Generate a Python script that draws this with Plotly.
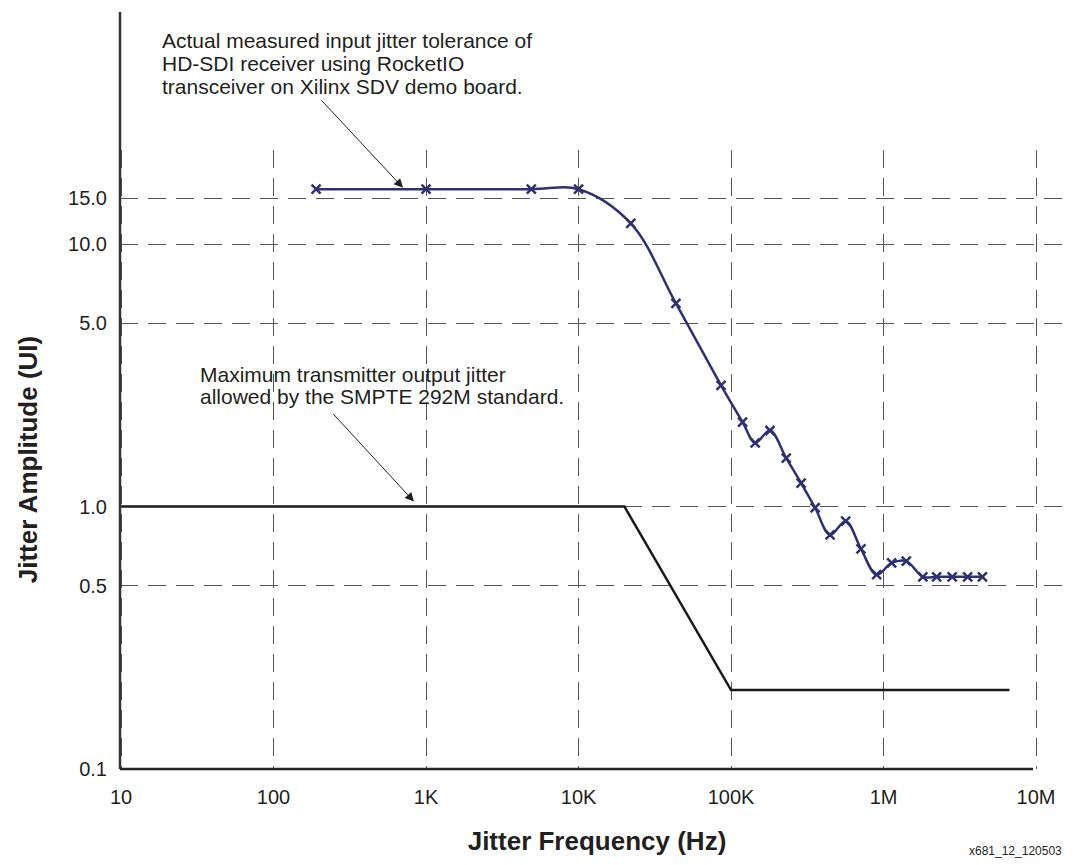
import plotly.graph_objects as go

# ---- data ----
meas_freq = [190, 1000, 4900, 10000, 22000, 43500, 86000, 119000, 144000, 180000,
             230000, 288000, 356000, 446000, 565000, 711000, 901000, 1130000,
             1410000, 1810000, 2230000, 2820000, 3560000, 4450000]
meas_amp = [16.2, 16.2, 16.2, 16.2, 12.0, 5.95, 2.90, 2.10, 1.75, 1.95,
            1.53, 1.23, 0.99, 0.78, 0.88, 0.69, 0.55, 0.61,
            0.62, 0.54, 0.54, 0.54, 0.54, 0.54]

smpte_freq = [10, 20000, 100000, 6700000]
smpte_amp = [1.0, 1.0, 0.2, 0.2]

x_tickvals = [10, 100, 1000, 10000, 100000, 1000000, 10000000]
x_ticktext = ["10", "100", "1K", "10K", "100K", "1M", "10M"]
y_tickvals = [0.1, 0.5, 1.0, 5.0, 10.0, 15.0]
y_ticktext = ["0.1", "0.5", "1.0", "5.0", "10.0", "15.0"]

note_measured = ["Actual measured input jitter tolerance of",
                 "HD-SDI receiver using RocketIO",
                 "transceiver on Xilinx SDV demo board."]
note_smpte = ["Maximum transmitter output jitter",
              "allowed by the SMPTE 292M standard."]

NAVY = "#2e3070"
INK = "#231f20"
FONT = "Liberation Sans, Arial, Helvetica, sans-serif"

# page body has an 8px margin; the figure is sized so the plot lands where the reference has it
PLOT_L, PLOT_B = 120, 769          # screen px of plot origin
PLOT_W, PLOT_H = 954, 619


def px(xs):
    return (xs - PLOT_L) / PLOT_W


def py(ys):
    return (PLOT_B - ys) / PLOT_H


fig = go.Figure()

fig.add_trace(go.Scatter(
    x=smpte_freq, y=smpte_amp, mode="lines",
    line=dict(color="#1a1a1a", width=2.5),
    showlegend=False, hoverinfo="skip"))

fig.add_trace(go.Scatter(
    x=meas_freq, y=meas_amp, mode="lines+markers",
    line=dict(color=NAVY, width=2.5, shape="spline", smoothing=1.0),
    marker=dict(symbol="x-thin", size=9, line=dict(color=NAVY, width=2.5)),
    showlegend=False, hoverinfo="skip"))

grid = dict(showgrid=True, gridcolor="#555555", gridwidth=1.2, griddash="18px,10px")

fig.update_layout(
    width=1066, height=857,
    margin=dict(l=112, r=0, t=142, b=96),
    paper_bgcolor="white", plot_bgcolor="white",
    font=dict(family=FONT, color=INK, size=20),
    xaxis=dict(type="log", range=[0.993, 7.249], tickvals=x_tickvals, ticktext=x_ticktext,
               showline=False, zeroline=False, ticks="", ticklabelstandoff=14,
               tickfont=dict(size=20),
               title=dict(text="<b>Jitter Frequency (Hz)</b>", font=dict(size=26), standoff=24),
               **grid),
    yaxis=dict(type="log", range=[-1, 1.359], tickvals=y_tickvals, ticktext=y_ticktext,
               showline=False, zeroline=False, ticks="", ticklabelstandoff=12,
               tickfont=dict(size=20),
               title=dict(text="<b>Jitter Amplitude (UI)</b>", font=dict(size=26), standoff=22),
               **grid),
)

# axis lines
fig.add_shape(type="line", xref="paper", yref="paper", x0=0, x1=0, y0=0, y1=py(12),
              line=dict(color="#333333", width=2.5))
fig.add_shape(type="line", xref="paper", yref="paper", x0=0, x1=px(1033), y0=0, y1=0,
              line=dict(color="#222222", width=2.5))

# annotation texts (one per line for the tight leading of the original)
for i, line in enumerate(note_measured):
    base = 47 + i * 23.5
    fig.add_annotation(xref="paper", yref="paper", x=px(160), y=py(base - 7),
                       xanchor="left", yanchor="middle", showarrow=False,
                       text=line, font=dict(size=21, color=INK))
for i, line in enumerate(note_smpte):
    base = 381 + i * 22
    fig.add_annotation(xref="paper", yref="paper", x=px(198), y=py(base - 7),
                       xanchor="left", yanchor="middle", showarrow=False,
                       text=line, font=dict(size=21, color=INK))

fig.add_annotation(x=2.849, y=1.215, xref="x", yref="y", ax=-83, ay=-89,
                   showarrow=True, arrowhead=2, arrowsize=1.8, arrowwidth=1, arrowcolor=INK,
                   text="")
fig.add_annotation(x=2.921, y=0.019, xref="x", yref="y", ax=-82, ay=-89,
                   showarrow=True, arrowhead=2, arrowsize=1.8, arrowwidth=1, arrowcolor=INK,
                   text="")

fig.add_annotation(xref="paper", yref="paper", x=px(1064), y=py(851),
                   xanchor="right", yanchor="middle", showarrow=False,
                   text="x681_12_120503", font=dict(size=12, color=INK))

fig.write_html("out.html")
